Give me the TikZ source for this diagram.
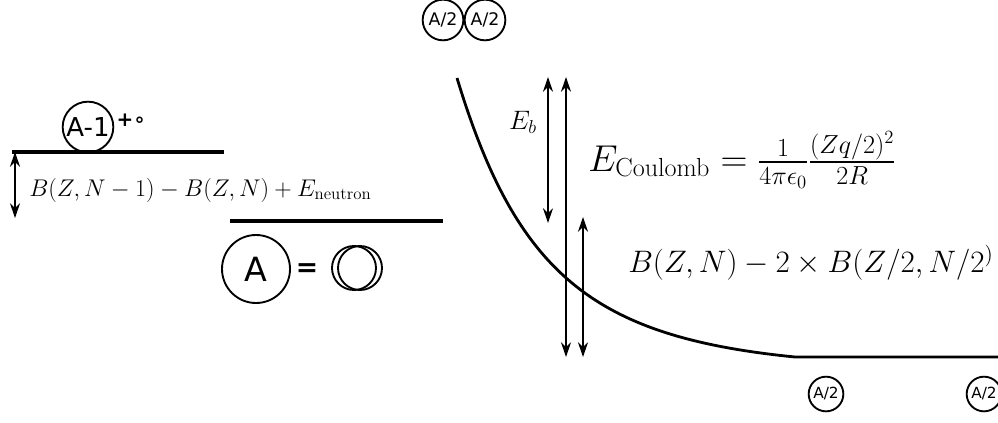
\RequirePackage{fix-cm}
\documentclass[tikz,border=0pt]{standalone}
\usepackage{fontspec}
\usepackage{amsmath}
\newfontfamily\circfont{DejaVu Sans}
\usetikzlibrary{arrows.meta}
\begin{document}
\begin{tikzpicture}[x=0.75pt,y=-0.75pt,
  nuc/.style={draw,circle,line width=1.4pt,inner sep=0pt,font=\circfont},
  lvl/.style={line width=2.4pt},
  darr/.style={line width=1.5pt,{Stealth[length=11pt,width=7.5pt]}-{Stealth[length=11pt,width=7.5pt]}},
  lab/.style={inner sep=0pt}]
\useasboundingbox (0,0) rectangle (998,422);
% left part
\node[nuc,minimum size=38pt,font=\circfont\fontsize{19.5}{22}\selectfont] (am1) at (88,127) {A-1};
\node[lab,anchor=west,font=\circfont\bfseries\fontsize{15}{17}\selectfont] (plus) at ([xshift=1.5pt]am1.east|-0,120) {+∘};
\coordinate (l1a) at (12,152);
\coordinate (l1b) at (224,152);
\draw[lvl] (l1a) -- (l1b);
\coordinate (a1t) at (15,152);
\coordinate (a1b) at (15,218);
\draw[darr] (a1t) -- (a1b);
\node[lab,anchor=west,font=\fontsize{18.1}{21}\selectfont] (sep) at (29,190) {$B(Z,N-1)-B(Z,N)+E_\text{neutron}$};
\coordinate (l2a) at (230,221);
\coordinate (l2b) at (443,221);
\draw[lvl] (l2a) -- (l2b);
\node[nuc,minimum size=51pt,font=\circfont\fontsize{25}{29}\selectfont] (a) at (256,269) {A};
\node[lab,font=\circfont\bfseries\fontsize{20}{24}\selectfont] (eq) at (307,270) {=};
\node[nuc,minimum size=33pt] (d1) at (354,268) {};
\node[nuc,minimum size=33pt] (d2) at (360,268) {};
% top pair
\node[nuc,minimum size=30.5pt,font=\circfont\fontsize{13}{15}\selectfont] (t1) at (443,20) {A/2};
\node[nuc,minimum size=30.5pt,font=\circfont\fontsize{13}{15}\selectfont] (t2) at (485,20) {A/2};
% curve
\coordinate (c0) at (457,78);
\coordinate (c1) at (795,357);
\coordinate (c2) at (998,357);
\draw[line width=2.1pt] (c0) .. controls (517,276) and (595,337) .. (c1) -- (c2);
% arrows
\coordinate (ebt) at (548,77);
\coordinate (ebb) at (548,223);
\draw[darr] (ebt) -- (ebb);
\coordinate (ect) at (566,77);
\coordinate (ecb) at (566,357);
\draw[darr] (ect) -- (ecb);
\coordinate (bt) at (583,217);
\coordinate (bb) at (583,357);
\draw[darr] (bt) -- (bb);
\node[lab,font=\fontsize{20}{23}\selectfont] (eb) at (523,122) {$E_b$};
\node[lab,anchor=west,font=\fontsize{28}{32}\selectfont] (ec) at (588,160) {$E_\text{Coulomb}=\frac{1}{4\pi\epsilon_0}\frac{(Zq/2)^2}{2R}$};
\node[lab,anchor=west,font=\fontsize{23.3}{28}\selectfont] (bz) at (628,263) {$B(Z,N)-2\times B(Z/2,N/2^{)}$};
% bottom pair
\node[nuc,minimum size=26pt,font=\circfont\fontsize{11.5}{13}\selectfont] (b1) at (826,394) {A/2};
\node[nuc,minimum size=26pt,font=\circfont\fontsize{11.5}{13}\selectfont] (b2) at (984,394) {A/2};
\end{tikzpicture}
\end{document}
